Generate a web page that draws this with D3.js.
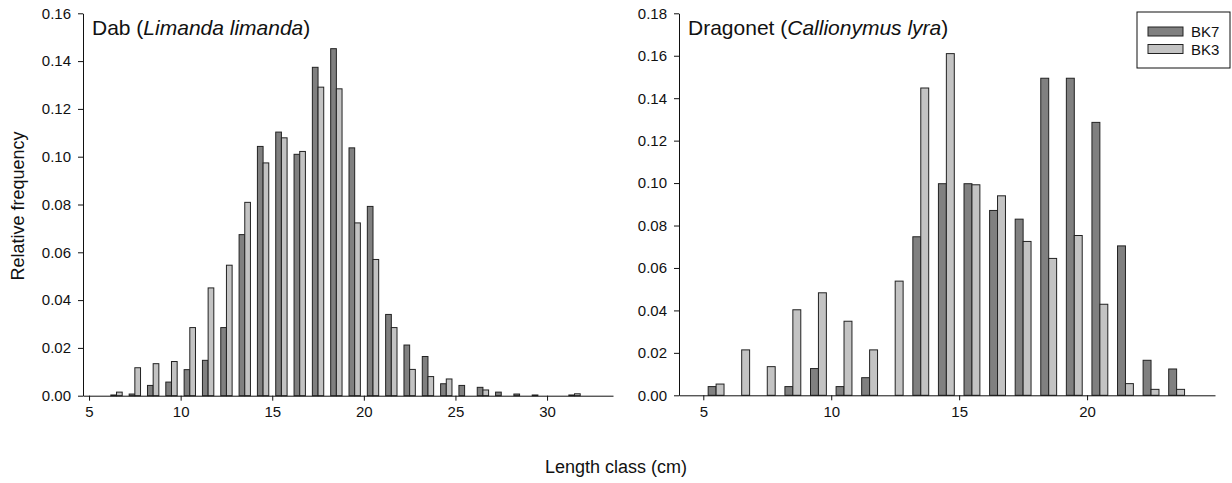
<!DOCTYPE html>
<meta charset="utf-8">
<script src="https://d3js.org/d3.v7.min.js"></script>
<style>
  body { margin: 0; background: #fff; }
  text { font-family: "Liberation Sans", Arial, sans-serif; }
</style>
<body>
<div id="chart"></div>
<script>
    // length classes (cm) and relative frequencies
    const dabClasses = [6, 7, 8, 9, 10, 11, 12, 13, 14, 15, 16, 17, 18, 19, 20, 21, 22, 23, 24, 25, 26, 27, 28, 29, 30, 31];
    const dabBK7 = [0.0003, 0.0007, 0.0043, 0.0057, 0.0109, 0.0148, 0.0285, 0.0674, 0.1043, 0.1103, 0.1010, 0.1374, 0.1452,
        0.1037, 0.0792, 0.0340, 0.0212, 0.0164, 0.0050, 0.0043, 0.0035, 0.0015, 0.0007, 0.0003, 0, 0.0003];
    const dabBK3 = [0.0015, 0.0117, 0.0134, 0.0143, 0.0285, 0.0451, 0.0546, 0.0809, 0.0974, 0.1079, 0.1022, 0.1291, 0.1284,
        0.0723, 0.0570, 0.0285, 0.0110, 0.0080, 0.0070, 0, 0.0024, 0, 0, 0, 0, 0.0008];

    const dragClasses = [5, 6, 7, 8, 9, 10, 11, 12, 13, 14, 15, 16, 17, 18, 19, 20, 21, 22, 23];
    const dragBK7 = [0.0041, 0, 0, 0.0041, 0.0126, 0.0041, 0.0083, 0, 0.0747, 0.0997, 0.0997, 0.0871, 0.0830, 0.1494, 0.1494,
        0.1286, 0.0704, 0.0165, 0.0124];
    const dragBK3 = [0.0053, 0.0214, 0.0135, 0.0403, 0.0483, 0.0349, 0.0214, 0.0538, 0.1448, 0.1610, 0.0992, 0.0940, 0.0725,
        0.0645, 0.0753, 0.0429, 0.0055, 0.0028, 0.0028];

    const dabXTicks = [5, 10, 15, 20, 25, 30];
    const dabYTicks = [0, 0.02, 0.04, 0.06, 0.08, 0.10, 0.12, 0.14, 0.16];
    const dragXTicks = [5, 10, 15, 20];
    const dragYTicks = [0, 0.02, 0.04, 0.06, 0.08, 0.10, 0.12, 0.14, 0.16, 0.18];

    const seriesNames = ["BK7", "BK3"];
    const colors = {BK7: "#808080", BK3: "#c3c3c3"};

    const W = 1232, H = 483;
    const BAR_W = 0.31; // in cm

    const svg = d3.select("#chart").append("svg")
        .attr("width", W)
        .attr("height", H);

    const panels = [
        {
            name: "Dab", latin: "Limanda limanda",
            classes: dabClasses, bk7: dabBK7, bk3: dabBK3,
            xTicks: dabXTicks, yTicks: dabYTicks,
            xDomain: [4.67, 33.6], xRange: [83, 613],
            yMax: 0.16, yRange: [395.7, 13.3]
        },
        {
            name: "Dragonet", latin: "Callionymus lyra",
            classes: dragClasses, bk7: dragBK7, bk3: dragBK3,
            xTicks: dragXTicks, yTicks: dragYTicks,
            xDomain: [4.05, 25], xRange: [679, 1215],
            yMax: 0.18, yRange: [395.3, 13.3]
        }
    ];

    panels.forEach(function (p) {
        const x = d3.scaleLinear().domain(p.xDomain).range(p.xRange);
        const y = d3.scaleLinear().domain([0, p.yMax]).range(p.yRange);
        const g = svg.append("g");

        // bars: each class gets a BK7/BK3 pair centred on class + 0.5
        const rows = [];
        p.classes.forEach(function (c, i) {
            rows.push({c: c, s: "BK7", v: p.bk7[i], off: -BAR_W});
            rows.push({c: c, s: "BK3", v: p.bk3[i], off: 0});
        });

        g.selectAll("rect.bar")
            .data(rows.filter(d => d.v > 0))
            .enter()
            .append("rect")
            .attr("class", "bar")
            .attr("x", d => x(d.c + 0.5 + d.off))
            .attr("width", d => x(d.c + 0.5 + d.off + BAR_W) - x(d.c + 0.5 + d.off))
            .attr("y", d => y(d.v))
            .attr("height", d => y(0) - y(d.v))
            .style("fill", d => colors[d.s])
            .style("stroke", "#222")
            .style("stroke-width", 1);

        const xAxis = g.append("g")
            .attr("transform", "translate(0," + y(0) + ")")
            .call(d3.axisBottom(x).tickValues(p.xTicks).tickSizeInner(5).tickSizeOuter(0).tickPadding(6)
                .tickFormat(d3.format("d")));
        const yAxis = g.append("g")
            .attr("transform", "translate(" + x.range()[0] + ",0)")
            .call(d3.axisLeft(y).tickValues(p.yTicks).tickSizeInner(5).tickSizeOuter(0).tickPadding(7)
                .tickFormat(d3.format(".2f")));

        [xAxis, yAxis].forEach(function (a) {
            a.selectAll("text").style("font-size", "15px").style("fill", "#111")
                .style("font-family", "'Liberation Sans', Arial, sans-serif");
            a.selectAll("line, path").style("stroke", "#111");
        });

        const title = g.append("text")
            .attr("x", x.range()[0] + 9)
            .attr("y", 35)
            .style("font-size", "21px")
            .style("fill", "#111");
        title.append("tspan").text(p.name + " (");
        title.append("tspan").style("font-style", "italic").text(p.latin);
        title.append("tspan").text(")");
    });

    // axis titles
    svg.append("text")
        .attr("transform", "translate(24,206) rotate(-90)")
        .attr("text-anchor", "middle")
        .style("font-size", "18px")
        .style("fill", "#111")
        .text("Relative frequency");

    svg.append("text")
        .attr("x", 616)
        .attr("y", 473)
        .attr("text-anchor", "middle")
        .style("font-size", "18px")
        .style("fill", "#111")
        .text("Length class (cm)");

    // legend
    const legend = svg.append("g").attr("transform", "translate(1137,12)");
    legend.append("rect")
        .attr("width", 93).attr("height", 56)
        .style("fill", "#fff").style("stroke", "#111").style("stroke-width", 1);
    seriesNames.forEach(function (s, i) {
        legend.append("rect")
            .attr("x", 11).attr("y", 15 + i * 17.5)
            .attr("width", 35).attr("height", 9)
            .style("fill", colors[s]).style("stroke", "#222");
        legend.append("text")
            .attr("x", 54).attr("y", 25 + i * 17.5)
            .style("font-size", "15px")
            .style("fill", "#111")
            .text(s);
    });
</script>
</body>
</html>
